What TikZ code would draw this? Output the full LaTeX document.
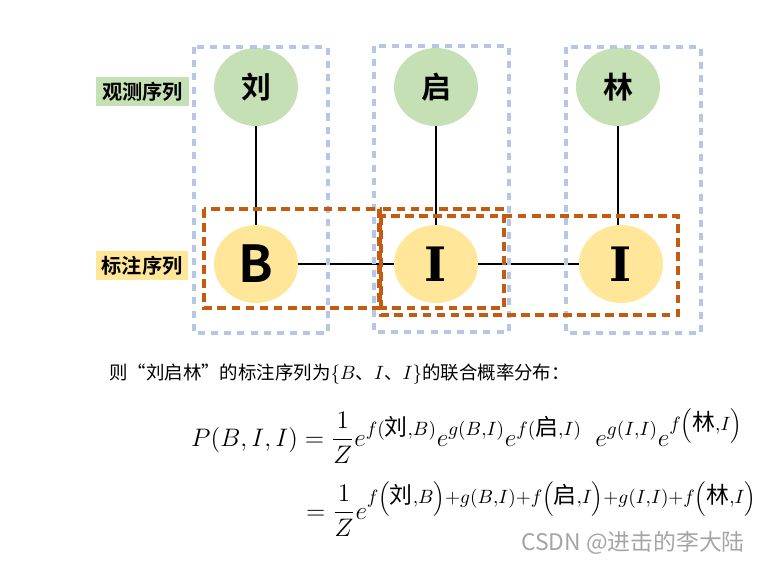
\documentclass[tikz,border=0pt]{standalone}
\usepackage{amsmath}
\usepackage{fontspec}
\usepackage{tikz}
\usetikzlibrary{shapes.geometric}
\newfontfamily\cjk{Noto Sans CJK SC}[BoldFont={Noto Sans CJK SC Bold}]
\newfontfamily\slabfont{DejaVu Serif}
\definecolor{obsgreen}{RGB}{197,224,180}
\definecolor{taggold}{RGB}{255,230,153}
\definecolor{boxblue}{RGB}{180,199,231}
\definecolor{boxorange}{RGB}{197,90,17}
\definecolor{markgray}{RGB}{165,165,165}
\newcommand{\hz}[1]{\mbox{\cjk\fontsize{13}{13}\selectfont #1}}

\begin{document}
\begin{tikzpicture}[x=0.02cm,y=-0.02cm,
    obs/.style={ellipse,fill=obsgreen,minimum width=1.68cm,minimum height=1.56cm,inner sep=0pt,font=\cjk\bfseries\fontsize{17}{17}\selectfont},
    tag/.style={ellipse,fill=taggold,minimum width=1.68cm,minimum height=1.56cm,inner sep=0pt},
    seqlabel/.style={minimum width=1.86cm,minimum height=0.58cm,inner sep=0pt,font=\cjk\bfseries\fontsize{11.5}{11.5}\selectfont},
    blueframe/.style={boxblue,line width=1.8pt,dash pattern=on 4pt off 3.5pt},
    orangeframe/.style={boxorange,line width=2pt,dash pattern=on 5pt off 3pt},
    link/.style={line width=1.3pt}]
  \useasboundingbox (0,0) rectangle (766,561);

  \node[seqlabel,fill=obsgreen] (obslabel) at (142.5,91.5) {观测序列};
  \node[seqlabel,fill=taggold] (taglabel) at (142,265.5) {标注序列};

  \node[obs] (liu) at (256,87) {刘};
  \node[obs] (qi) at (436,87) {启};
  \node[obs] (lin) at (618,87) {林};
  \node[tag,font=\cjk\bfseries\fontsize{29}{29}\selectfont] (tb) at (256,264) {B};
  \node[tag,font=\slabfont\bfseries\fontsize{27}{27}\selectfont] (ti) at (436,264) {I};
  \node[tag,font=\slabfont\bfseries\fontsize{27}{27}\selectfont] (tii) at (621,264) {I};

  \draw[link] (liu) -- (tb);
  \draw[link] (qi) -- (ti);
  \draw[link] (lin) -- (lin |- tii.north);
  \draw[link] (tb) -- (ti);
  \draw[link] (ti) -- (tii);

  % frames
  \draw[blueframe] (194,47) rectangle (328,333);
  \draw[blueframe] (374,46) rectangle (509,332);
  \draw[blueframe] (566,47) rectangle (701,333);
  \draw[orangeframe] (204,209) rectangle (380,308);
  \draw[orangeframe] (379,209) rectangle (504,308);
  \draw[orangeframe] (381,216) rectangle (678,315);

  \node[anchor=west,font=\cjk\fontsize{10.5}{10.5}\selectfont] (intro) at (103,374)
    {则“刘启林”的标注序列为$\{B$、$I$、$I\}$的联合概率分布：};
  \node[anchor=base west,font=\fontsize{15.4}{18}\selectfont] (eqa) at (185,446)
    {$\displaystyle P(B,I,I)=\frac{1}{Z}e^{f(\hz{刘},B)}e^{g(B,I)}e^{f(\hz{启},I)}\enspace e^{g(I,I)}e^{f\left(\hz{林},I\right)}$};
  \node[anchor=base west,font=\fontsize{15.4}{18}\selectfont] (eqb) at (300,519)
    {$\displaystyle =\frac{1}{Z}e^{f\left(\hz{刘},B\right)+g(B,I)+f\left(\hz{启},I\right)+g(I,I)+f\left(\hz{林},I\right)}$};
  \node[anchor=west,text=markgray,font=\cjk\fontsize{13}{13}\selectfont] (mark) at (515,543) {CSDN @进击的李大陆};
\end{tikzpicture}
\end{document}
